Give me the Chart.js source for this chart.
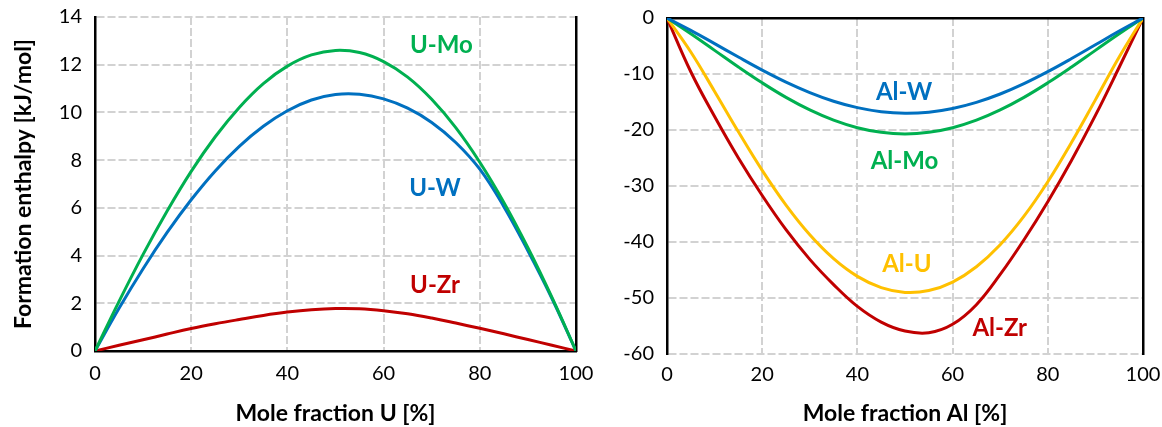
<!DOCTYPE html>
<html><head><meta charset="utf-8">
<script src="https://cdn.jsdelivr.net/npm/chart.js@4"></script>
<style>
html,body{margin:0;padding:0;background:#fff;}
#wrap{position:relative;width:1162px;height:427px;overflow:hidden;background:#fff;}
#c1{position:absolute;left:0;top:0;}
#c2{position:absolute;left:600px;top:0;}
</style></head><body>
<div id="wrap"><canvas id="c1" width="600" height="427"></canvas><canvas id="c2" width="562" height="427"></canvas></div>
<script>
// ---- data ----
const molePct = [0,5,10,15,20,25,30,35,40,45,50,55,60,65,70,75,80,85,90,95,100];
const uMo = [0,2.08,4.05,5.87,7.53,8.98,10.21,11.21,11.94,12.41,12.6,12.51,12.13,11.48,10.55,9.36,7.91,6.23,4.33,2.25,0];
const uW  = [0,1.79,3.45,4.97,6.34,7.55,8.58,9.42,10.07,10.52,10.75,10.76,10.57,10.18,9.58,8.74,7.62,6.05,4.2,2.2,0];
const uZr = [0,0.24,0.47,0.71,0.94,1.14,1.32,1.49,1.63,1.73,1.78,1.77,1.69,1.56,1.38,1.17,0.95,0.72,0.48,0.24,0];
const alW  = [0,-2.2,-4.57,-6.97,-9.3,-11.44,-13.31,-14.86,-16.01,-16.73,-17.0,-16.81,-16.15,-15.06,-13.57,-11.72,-9.58,-7.24,-4.79,-2.33,0];
const alMo = [0,-2.82,-5.78,-8.75,-11.58,-14.17,-16.41,-18.24,-19.59,-20.42,-20.7,-20.42,-19.59,-18.24,-16.41,-14.17,-11.58,-8.75,-5.78,-2.82,0];
const alU  = [0,-6.08,-13.11,-20.33,-27.22,-33.42,-38.72,-42.98,-46.14,-48.15,-49.0,-48.67,-47.15,-44.41,-40.48,-35.39,-29.24,-22.2,-14.62,-6.97,0];
const alZr = [0,-9.6,-17.6,-25.0,-31.7,-37.8,-43.1,-47.6,-51.5,-54.3,-55.9,-56.2,-54.7,-51.2,-45.8,-39.6,-32.8,-25.4,-17.4,-8.8,0];
const xTicks = [0,20,40,60,80,100];
const leftYTicks = [0,2,4,6,8,10,12,14];
const rightYTicks = [-60,-50,-40,-30,-20,-10,0];
const leftNames = ['U-Mo','U-W','U-Zr'];
const rightNames = ['Al-W','Al-Mo','Al-U','Al-Zr'];
// label anchor points (data coordinates)
const leftLabelX = [72, 70.7, 70.7];
const leftLabelY = [12.8, 6.83, 2.77];
const rightLabelX = [49.8, 49.9, 50.4, 69.9];
const rightLabelY = [-13.2, -25.5, -43.9, -55.4];

// ---- styles ----
const GREEN = '#00B050', BLUE = '#0070C0', RED = '#C00000', YELLOW = '#FFC000';
const GRID = '#d2d2d2';
const FONT = 'Lato';
Chart.defaults.font.family = FONT;
Chart.defaults.color = '#000';

const pts = ys => molePct.map((x, i) => ({x: x, y: ys[i]}));
const ds = (label, ys, color) => ({label, data: pts(ys), borderColor: color, backgroundColor: color,
  borderWidth: 3, pointRadius: 0, tension: 0.4, fill: false});

const labelPlugin = (names, lx, ly, colors) => ({
  id: 'seriesLabels',
  afterDatasetsDraw(chart) {
    const ctx = chart.ctx, xs = chart.scales.x, ys = chart.scales.y;
    ctx.save();
    ctx.font = 'bold 24px ' + FONT;
    ctx.textAlign = 'center';
    ctx.textBaseline = 'middle';
    names.forEach((n, i) => {
      ctx.fillStyle = colors[i];
      ctx.fillText(n, xs.getPixelForValue(lx[i]), ys.getPixelForValue(ly[i]));
    });
    ctx.restore();
  }
});

const noPad = s => { s.paddingTop = 0; s.paddingBottom = 0; s.paddingLeft = 0; s.paddingRight = 0; };

function xScale(title, showBorder, h, tp) {
  return {
    type: 'linear', position: 'bottom', min: 0, max: 100,
    afterBuildTicks: s => { s.ticks = xTicks.map(v => ({value: v})); },
    afterFit: s => { s.height = h; noPad(s); },
    grid: {color: GRID, lineWidth: 2, drawTicks: false},
    border: {display: showBorder, color: '#000', width: 2.5, dash: [8, 3]},
    ticks: {font: {size: 20}, padding: tp, maxRotation: 0, autoSkip: false, color: '#000'},
    title: {display: true, text: title, font: {size: 23, weight: 'bold'}, color: '#000', padding: {top: 0, bottom: 0}}
  };
}
function yScale(min, max, tickArr, w, title) {
  const s = {
    type: 'linear', position: 'left', min, max,
    afterBuildTicks: sc => { sc.ticks = tickArr.map(v => ({value: v})); },
    afterFit: sc => { sc.width = w; noPad(sc); },
    grid: {color: GRID, lineWidth: 2, drawTicks: false},
    border: {display: true, color: '#000', width: 2.5, dash: [8, 3]},
    ticks: {font: {size: 20}, padding: 13, color: '#000'},
  };
  if (title) s.title = {display: true, text: title, font: {size: 23, weight: 'bold'}, color: '#000', padding: {top: 10, bottom: 10}};
  return s;
}
const edgeAxis = (pos) => ({
  type: 'linear', position: pos, min: 0, max: 1, display: true,
  afterFit: s => { if (pos === 'top' || pos === 'bottom') s.height = 0; else s.width = 0; noPad(s); },
  grid: {drawOnChartArea: false, drawTicks: false, color: 'rgba(0,0,0,0)'},
  border: {display: true, color: '#000', width: 2.5},
  ticks: {display: false}
});

new Chart(document.getElementById('c1'), {
  type: 'line',
  data: {datasets: [ds('U-Mo', uMo, GREEN), ds('U-W', uW, BLUE), ds('U-Zr', uZr, RED)]},
  options: {
    responsive: false, animation: false, devicePixelRatio: 1,
    layout: {padding: {left: 0, right: 24, top: 17, bottom: 0}, autoPadding: false},
    plugins: {legend: {display: false}, tooltip: {enabled: false}},
    scales: {
      x: xScale('Mole fraction U [%]', true, 76, 11),
      y: yScale(0, 14, leftYTicks, 95, 'Formation enthalpy [kJ/mol]'),
      yR: edgeAxis('right')
    }
  },
  plugins: [labelPlugin(leftNames, leftLabelX, leftLabelY, [GREEN, BLUE, RED])]
});

new Chart(document.getElementById('c2'), {
  type: 'line',
  data: {datasets: [ds('Al-W', alW, BLUE), ds('Al-Mo', alMo, GREEN), ds('Al-U', alU, YELLOW), ds('Al-Zr', alZr, RED)]},
  options: {
    responsive: false, animation: false, devicePixelRatio: 1,
    layout: {padding: {left: 0, right: 19, top: 18, bottom: 0}, autoPadding: false},
    plugins: {legend: {display: false}, tooltip: {enabled: false}},
    scales: {
      x: xScale('Mole fraction Al [%]', false, 73, 9),
      y: yScale(-60, 0, rightYTicks, 67, null),
      yR: edgeAxis('right'),
      xT: edgeAxis('top')
    }
  },
  plugins: [labelPlugin(rightNames, rightLabelX, rightLabelY, [BLUE, GREEN, YELLOW, RED])]
});
</script>
</body></html>
